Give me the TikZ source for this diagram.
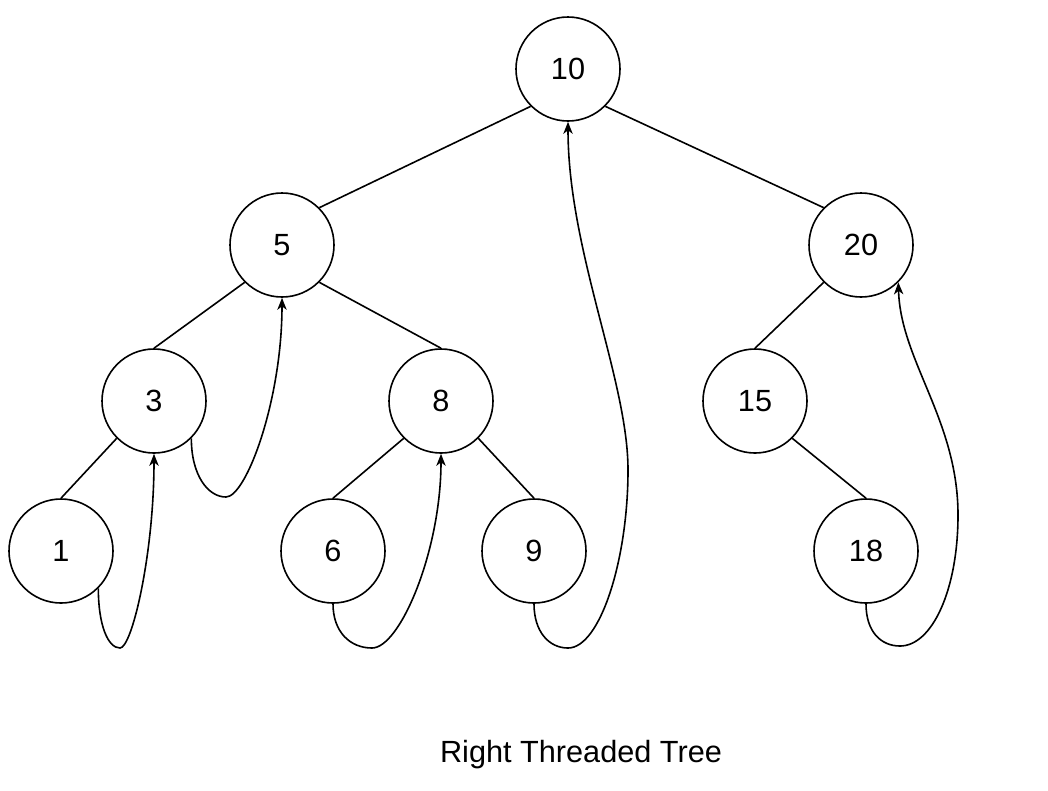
\documentclass[tikz,border=0pt]{standalone}
\usepackage{fontspec}
\setmainfont{Liberation Sans}
\usetikzlibrary{arrows.meta}
\begin{document}
\begin{tikzpicture}[x=0.75pt,y=-0.75pt,
  treenode/.style={draw,circle,line width=1.2pt,minimum size=78pt,inner sep=0pt,
    font=\fontsize{23}{27}\selectfont},
  branch/.style={line width=1.2pt},
  thread/.style={line width=1.2pt,-{Stealth[length=9pt,width=7pt,inset=2.6pt]}},
  caption/.style={font=\fontsize{23}{27}\selectfont,anchor=base}]
\useasboundingbox (0,0) rectangle (1048,790);

% tree nodes
\node[treenode] (n10) at (568,69)  {10};
\node[treenode] (n5)  at (282,245) {5};
\node[treenode] (n20) at (861,245) {20};
\node[treenode] (n3)  at (154,401) {3};
\node[treenode] (n8)  at (441,401) {8};
\node[treenode] (n15) at (755,401) {15};
\node[treenode] (n1)  at (61,551)  {1};
\node[treenode] (n6)  at (333,551) {6};
\node[treenode] (n9)  at (534,551) {9};
\node[treenode] (n18) at (866,551) {18};

% child links
\draw[branch] (n10.south west) -- (n5.north east);
\draw[branch] (n10.south east) -- (n20.north west);
\draw[branch] (n5.south west) -- (n3.north);
\draw[branch] (n5.south east) -- (n8.north);
\draw[branch] (n3.south west) -- (n1.north);
\draw[branch] (n8.south west) -- (n6.north);
\draw[branch] (n8.south east) -- (n9.north);
\draw[branch] (n20.south west) -- (n15.north);
\draw[branch] (n15.south east) -- (n18.north);

% turning points of the threads
\coordinate (b1)  at (120,648);
\coordinate (b3)  at (226,497);
\coordinate (b6)  at (372,648);
\coordinate (b9)  at (568,648);
\coordinate (m9)  at (628,470);
\coordinate (b18) at (900,646);
\coordinate (m18) at (958,515);

% right threads to the in-order successor
\draw[thread] (n1.south east) .. controls +(0,37) and +(-12,0) .. (b1)
  .. controls +(12,0) and +(0,100) .. (n3.south);
\draw[thread] (n3.south east) .. controls +(0,37) and +(-18,0) .. (b3)
  .. controls +(20,0) and +(0,103) .. (n5.south);
\draw[thread] (n6.south) .. controls +(0,28) and +(-22,0) .. (b6)
  .. controls +(28,0) and +(0,97) .. (n8.south);
\draw[thread] (n9.south) .. controls +(0,28) and +(-19,0) .. (b9)
  .. controls +(32,0) and +(0,90) .. (m9)
  .. controls +(0,-90) and +(0,129) .. (n10.south);
\draw[thread] (n18.south) .. controls +(0,28) and +(-19,0) .. (b18)
  .. controls +(32,0) and +(0,75) .. (m18)
  .. controls +(0,-95) and +(2,78) .. (n20.south east);

\node[caption] (title) at (581,762) {Right Threaded Tree};
\end{tikzpicture}
\end{document}
